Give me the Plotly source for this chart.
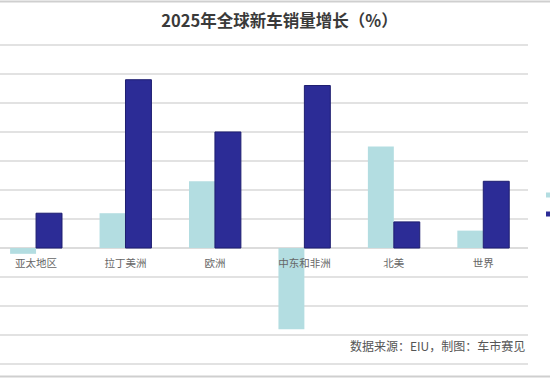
import plotly.graph_objects as go

categories = ["亚太地区", "拉丁美洲", "欧洲", "中东和非洲", "北美", "世界"]
values_light = [-0.2, 1.2, 2.3, -2.8, 3.5, 0.6]
values_dark = [1.2, 5.8, 4.0, 5.6, 0.9, 2.3]
title_text = "2025年全球新车销量增长（%）"
source_text = "数据来源：EIU，制图：车市赛见"

light = "#b3dde1"
dark = "#2c2c96"

T, B = 42, 11
PH = 378 - T - B  # plot height in px


def py(pix):
    """paper y for a pixel row"""
    return (378 - B - pix) / PH


fig = go.Figure()
fig.add_trace(go.Bar(x=categories, y=values_light, name="", showlegend=False,
                     marker=dict(color=light, line=dict(width=0))))
fig.add_trace(go.Bar(x=categories, y=values_dark, name="", showlegend=False,
                     marker=dict(color=dark, line=dict(color="#1e1e70", width=1))))
# legend-only entries (the legend is cut off at the right edge in the reference)
for c in (light, dark):
    fig.add_trace(go.Scatter(x=[None], y=[None], mode="markers", name="",
                             marker=dict(symbol="square", size=5, color=c),
                             showlegend=True, hoverinfo="skip"))

fig.update_layout(
    width=550, height=378,
    margin=dict(l=0, r=22, t=T, b=B, autoexpand=False),
    paper_bgcolor="white", plot_bgcolor="white",
    barmode="group", bargap=0.42, bargroupgap=0,
    font=dict(family="Noto Sans CJK SC, Noto Sans, sans-serif", size=11, color="#666"),
    title=dict(text="<b>" + title_text + "</b>", x=279.5 / 528, xref="paper", xanchor="center",
               y=1 - 21 / 378, yref="container", yanchor="middle",
               font=dict(size=16.5, color="#3a3a3a", family="Noto Sans CJK SC, sans-serif")),
    showlegend=True,
    legend=dict(x=528.5 / 528, xanchor="left", y=py(180.6), yanchor="top",
                bgcolor="rgba(0,0,0,0)", font=dict(size=11, color="#666"),
                tracegroupgap=0),
    xaxis=dict(range=[-0.403, 5.5], anchor="free", position=4.1 / 11.2,
               showgrid=False, showline=False, ticks="", zeroline=False,
               ticklabelstandoff=7,
               tickfont=dict(size=10.5, color="#666")),
    yaxis=dict(range=[-4.1, 7.1], dtick=1, showticklabels=False, ticks="",
               showgrid=True, gridcolor="#e2e2e2", gridwidth=1.5,
               zeroline=True, zerolinecolor="#dcdcdc", zerolinewidth=1.5,
               showline=False),
    annotations=[dict(text=source_text, x=527 / 528, xref="paper", xanchor="right",
                      y=py(345), yref="paper", yanchor="middle",
                      showarrow=False, font=dict(size=12, color="#555"))],
    shapes=[
        dict(type="line", xref="paper", yref="paper", x0=-0.01, x1=1.05,
             y0=py(1.5), y1=py(1.5), line=dict(color="#cfcfcf", width=2)),
        dict(type="line", xref="paper", yref="paper", x0=-0.01, x1=1.05,
             y0=py(376.5), y1=py(376.5), line=dict(color="#cfcfcf", width=2)),
    ],
)

fig.write_html("out.html", config={"displayModeBar": False},
               post_script="document.body.style.margin='0';")
